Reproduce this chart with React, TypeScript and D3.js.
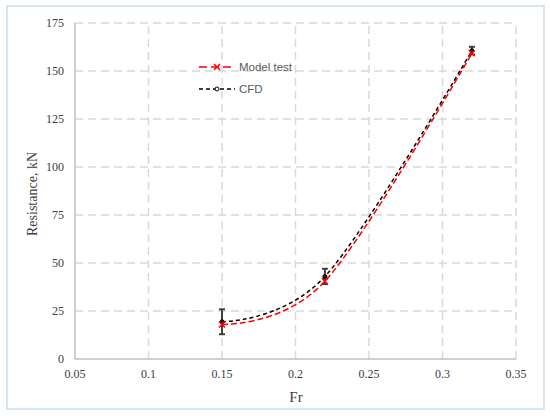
import React from 'react';
import * as d3 from 'd3';

const frValues = [0.15, 0.22, 0.32];
const modelTest = [18, 40.5, 159.2];
const cfd = [19.4, 43, 160.6];
const cfdError = [6.5, 4, 2];
const xTicks = [0.05, 0.1, 0.15, 0.2, 0.25, 0.3, 0.35];
const yTicks = [0, 25, 50, 75, 100, 125, 150, 175];

const App = () => {
  const width = 550,
    height = 416;
  const margin = { left: 75, right: 34, top: 23, bottom: 57 };

  const x = d3.scaleLinear().domain([0.05, 0.35]).range([margin.left, width - margin.right]);
  const y = d3.scaleLinear().domain([0, 175]).range([height - margin.bottom, margin.top]);

  // Excel style smoothed line
  const line = d3
    .line<number>()
    .x((_, i) => x(frValues[i]))
    .y(d => y(d))
    .curve(d3.curveCardinal.tension(0));

  const gridColor = '#d9d9d9';
  const textColor = '#404040';

  const cross = (cx: number, cy: number, s: number) =>
    `M${cx - s},${cy - s}L${cx + s},${cy + s}M${cx - s},${cy + s}L${cx + s},${cy - s}`;

  return (
    <svg
      width={width}
      height={height}
      style={{ position: 'absolute', left: 0, top: 0, background: '#fff' }}
    >
      {/* frame */}
      <rect x={7} y={6} width={537} height={403} fill="#fff" stroke="#d5e5f4" strokeWidth={2} />

      {/* grid */}
      {yTicks.filter(t => t > 0).map(t => (
        <line
          key={'gy' + t}
          x1={x(0.05)}
          x2={x(0.35)}
          y1={y(t)}
          y2={y(t)}
          stroke={gridColor}
          strokeWidth={1.5}
          strokeDasharray="8,5"
        />
      ))}
      {xTicks.filter(t => t > 0.05).map(t => (
        <line
          key={'gx' + t}
          x1={x(t)}
          x2={x(t)}
          y1={y(0)}
          y2={y(175)}
          stroke={gridColor}
          strokeWidth={1.5}
          strokeDasharray="8,5"
        />
      ))}

      {/* axes */}
      <line x1={x(0.05)} x2={x(0.35)} y1={y(0)} y2={y(0)} stroke="#bfbfbf" strokeWidth={1.5} />
      <line x1={x(0.05)} x2={x(0.05)} y1={y(0)} y2={y(175)} stroke="#bfbfbf" strokeWidth={1.5} />

      {/* tick labels */}
      {yTicks.map(t => (
        <text
          key={'ly' + t}
          x={x(0.05) - 11}
          y={y(t) + 4}
          textAnchor="end"
          fontFamily="Liberation Serif, Times New Roman, serif"
          fontSize={12}
          fill={textColor}
        >
          {t}
        </text>
      ))}
      {xTicks.map(t => (
        <text
          key={'lx' + t}
          x={x(t)}
          y={y(0) + 19}
          textAnchor="middle"
          fontFamily="Liberation Serif, Times New Roman, serif"
          fontSize={12}
          fill={textColor}
        >
          {t}
        </text>
      ))}

      {/* axis titles */}
      <text
        x={296}
        y={402}
        textAnchor="middle"
        fontFamily="Liberation Serif, Times New Roman, serif"
        fontSize={15}
        fill={textColor}
      >
        Fr
      </text>
      <text
        transform="translate(37,194) rotate(-90)"
        textAnchor="middle"
        fontFamily="Liberation Serif, Times New Roman, serif"
        fontSize={14}
        fill={textColor}
      >
        Resistance, kN
      </text>

      {/* series lines */}
      <path d={line(modelTest) || ''} fill="none" stroke="#ff0000" strokeWidth={1.5} strokeDasharray="6,3" />
      <path d={line(cfd) || ''} fill="none" stroke="#000" strokeWidth={1.5} strokeDasharray="4,3" />

      {/* error bars */}
      {frValues.map((f, i) => (
        <g key={'err' + i} stroke="#404040" strokeWidth={2}>
          <line x1={x(f)} x2={x(f)} y1={y(cfd[i] - cfdError[i])} y2={y(cfd[i] + cfdError[i])} />
          <line x1={x(f) - 3} x2={x(f) + 3} y1={y(cfd[i] - cfdError[i])} y2={y(cfd[i] - cfdError[i])} />
          <line x1={x(f) - 3} x2={x(f) + 3} y1={y(cfd[i] + cfdError[i])} y2={y(cfd[i] + cfdError[i])} />
        </g>
      ))}

      {/* markers */}
      {frValues.map((f, i) => (
        <circle key={'c' + i} cx={x(f)} cy={y(cfd[i])} r={2} fill="#222" stroke="#000" strokeWidth={1} />
      ))}
      {frValues.map((f, i) => (
        <path key={'m' + i} d={cross(x(f), y(modelTest[i]), 3)} stroke="#ff0000" strokeWidth={1.5} fill="none" />
      ))}

      {/* legend */}
      <g fontFamily="Liberation Sans, Arial, sans-serif" fontSize={11.5} fill="#595959">
        <line x1={199} x2={235} y1={67} y2={67} stroke="#ff0000" strokeWidth={1.5} strokeDasharray="8,4" />
        <path d={cross(217, 67, 3)} stroke="#ff0000" strokeWidth={1.5} fill="none" />
        <text x={239} y={71}>Model test</text>
        <line x1={199} x2={235} y1={89} y2={89} stroke="#000" strokeWidth={1.5} strokeDasharray="4,3" />
        <circle cx={217} cy={89} r={2} fill="#fff" stroke="#000" strokeWidth={1} />
        <text x={239} y={93}>CFD</text>
      </g>
    </svg>
  );
};

export default App;
